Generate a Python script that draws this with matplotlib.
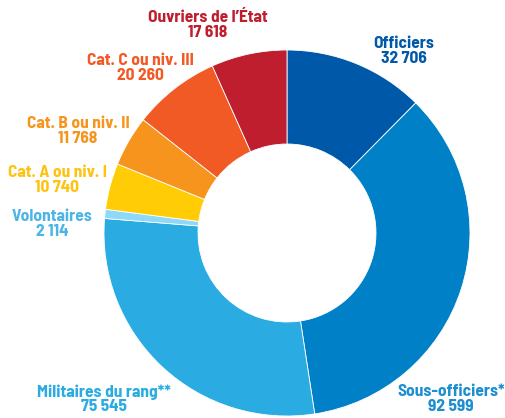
import matplotlib
matplotlib.use("Agg")
from matplotlib import pyplot as plt

# data, clockwise from the top
labels = ["Officiers", "Sous-officiers*", "Militaires du rang**", "Volontaires",
          "Cat. A ou niv. I", "Cat. B ou niv. II", "Cat. C ou niv. III", "Ouvriers de l\u2019\u00c9tat"]
values = [32706, 92599, 75545, 2114, 10740, 11768, 20260, 17618]
colors = ["#0058a8", "#0080c6", "#2aace2", "#8ed8f8", "#ffcc05", "#f7941d", "#f15a24", "#be1e2d"]
text_colors = ["#0058a8", "#1d8fd0", "#2aace2", "#4db5e6", "#ffc20e", "#f7941d", "#f15a24", "#be1e2d"]

# label centres in pixels (x, y from top)
label_pos = [(404, 51), (451, 399), (104, 399), (52, 224), (57, 180), (78, 131), (140, 68), (208, 25)]

W, H = 505, 418
fig = plt.figure(figsize=(W / 100, H / 100), dpi=100)
ax = fig.add_axes([0, 0, 1, 1])

cx, cy = 287, H - 233
r_out, r_in = 183, 89
ax.pie(values, colors=colors, startangle=90, counterclock=False,
       center=(cx, cy), radius=r_out, frame=True,
       wedgeprops=dict(width=r_out - r_in, edgecolor="white", linewidth=0.6))
ax.set_xlim(0, W)
ax.set_ylim(0, H)
ax.set_aspect("equal")
ax.axis("off")

fam = ["Barlow Semi Condensed", "DejaVu Sans"]
for lab, v, c, (x, y) in zip(labels, values, text_colors, label_pos):
    num = f"{v:,}".replace(",", " ")
    ax.text(x, H - y, lab + "\n" + num, ha="center", va="center", color=c,
            fontsize=12.5, fontweight="bold", family=fam, linespacing=0.95)

fig.savefig("out.png", dpi=100)
